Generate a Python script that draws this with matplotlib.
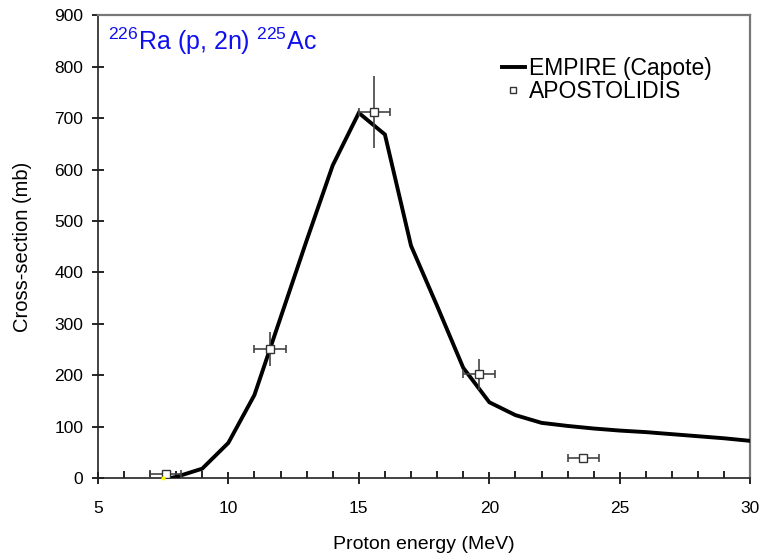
import matplotlib
matplotlib.use("Agg")
import matplotlib.pyplot as plt
from matplotlib.lines import Line2D
import numpy as np

plt.rcParams['font.family'] = ['Liberation Sans', 'DejaVu Sans']
plt.rcParams['mathtext.fontset'] = 'custom'
plt.rcParams['mathtext.rm'] = 'Liberation Sans'
plt.rcParams['mathtext.it'] = 'Liberation Sans:italic'
plt.rcParams['mathtext.bf'] = 'Liberation Sans:bold'

# EMPIRE (Capote) calculation
emp_x = [7.7, 8, 9, 10, 11, 12, 13, 14, 15, 16, 17, 18, 19, 20, 21, 22, 23, 24, 25, 26, 27, 28, 29, 30]
emp_y = [0, 3, 19, 69, 162, 312, 462, 608, 710, 668, 452, 335, 215, 148, 123, 108, 102, 97, 93, 90, 86, 82, 78, 73]

# APOSTOLIDIS experimental data
apo_x = [7.6, 11.6, 15.6, 19.6, 23.6]
apo_y = [8, 251, 711, 202, 40]
apo_xerr = [0.6, 0.6, 0.6, 0.6, 0.6]
apo_yerr = [0, 33, 70, 30, 0]

fig = plt.figure(figsize=(7.61, 5.57), dpi=100)
ax = fig.add_axes([0.1285, 0.141, 0.8575, 0.832])

ax.plot(emp_x, emp_y, color='black', lw=2.8, zorder=3, solid_joinstyle='miter')
# horizontal error bars with caps
ax.errorbar(apo_x, apo_y, xerr=apo_xerr, fmt='none', ecolor='#444444',
            elinewidth=1.2, capsize=3, capthick=1.2, zorder=4)
# vertical error bars without caps
ax.errorbar(apo_x, apo_y, yerr=apo_yerr, fmt='none', ecolor='#444444',
            elinewidth=1.2, capsize=0, zorder=4)
ax.plot(apo_x, apo_y, 's', ms=6, mfc='white', mec='#333333', mew=1.0, ls='none', zorder=5)
ax.plot([7.5], [0], marker='o', ms=3, color='yellow', mec='none', zorder=6, clip_on=False)

ax.set_xlim(5, 30)
ax.set_ylim(0, 900)
ax.set_xticks(np.arange(5, 31, 5))
ax.set_xticks(np.arange(5, 31, 1), minor=True)
ax.set_yticks(np.arange(0, 901, 100))

ax.tick_params(axis='both', which='major', direction='inout', length=9, width=1.2, labelsize=12.5, colors='black')
ax.tick_params(axis='x', which='minor', direction='in', length=5, width=1.2)
ax.tick_params(axis='x', which='major', pad=12)
ax.tick_params(axis='y', which='major', pad=6)

for s in ['left', 'bottom']:
    ax.spines[s].set_color('#222222')
    ax.spines[s].set_linewidth(1.2)
for s in ['top', 'right']:
    ax.spines[s].set_color('#777777')
    ax.spines[s].set_linewidth(1.6)

ax.set_xlabel('Proton energy (MeV)', fontsize=14, labelpad=14)
ax.set_ylabel('Cross-section (mb)', fontsize=14.5, labelpad=16)

ax.text(0.016, 0.978, r'$^{226}$Ra (p, 2n) $^{225}$Ac', transform=ax.transAxes,
        color='#1010ee', fontsize=18, va='top', ha='left')

handles = [Line2D([], [], color='black', lw=2.8),
           Line2D([], [], marker='s', ms=5, mfc='white', mec='#333333', mew=1.0, ls='none')]
leg = ax.legend(handles, ['EMPIRE (Capote)', 'APOSTOLIDIS'], loc='upper right',
                bbox_to_anchor=(0.966, 0.945), frameon=False, fontsize=16.5,
                handlelength=1.0, handletextpad=0.2, labelspacing=0.0, borderpad=0.2)

fig.savefig('out.png', dpi=100)
